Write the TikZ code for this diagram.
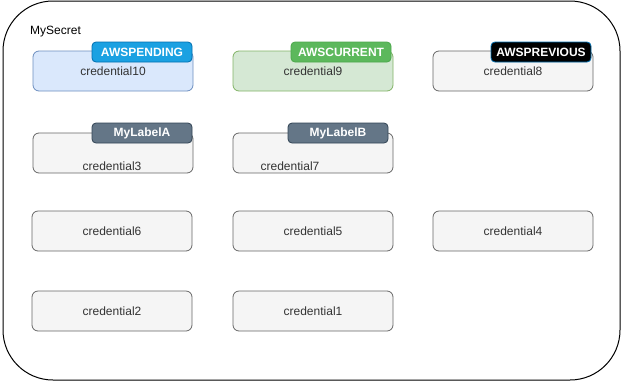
\documentclass[tikz,border=0pt]{standalone}
\usepackage{fontspec}
\setmainfont{Liberation Sans}
\usetikzlibrary{positioning}

\definecolor{grisfondo}{HTML}{F5F5F5}
\definecolor{grisborde}{HTML}{666666}
\definecolor{gristexto}{HTML}{333333}
\definecolor{azulfondo}{HTML}{DAE8FC}
\definecolor{azulborde}{HTML}{6C8EBF}
\definecolor{verdefondo}{HTML}{D5E8D4}
\definecolor{verdeborde}{HTML}{82B366}
\definecolor{azultag}{HTML}{1BA1E2}
\definecolor{azultagborde}{HTML}{006EAF}
\definecolor{verdetag}{HTML}{5CB85C}
\definecolor{verdetagborde}{HTML}{4CA84C}
\definecolor{pizarra}{HTML}{647687}
\definecolor{pizarraborde}{HTML}{314354}

\begin{document}
\begin{tikzpicture}[
        x=1pt, y=-1pt,
        cred/.style={
            rectangle,
            rounded corners=6pt,
            minimum width=160pt,
            minimum height=40pt,
            inner sep=0pt,
            align=center,
            font=\fontsize{12}{14}\selectfont,
            text=gristexto,
            line width=0.8pt,
            draw=grisborde,
            fill=grisfondo
        },
        etiqueta/.style={
            rectangle,
            rounded corners=4pt,
            minimum width=100pt,
            minimum height=20pt,
            inner sep=0pt,
            align=center,
            font=\fontsize{12}{14}\selectfont\bfseries,
            text=white,
            line width=0.8pt
        },
        texto/.style={font=\fontsize{12}{14}\selectfont, text=gristexto, inner sep=0pt}
    ]
        \useasboundingbox (0,0) rectangle (623,381);

        \node[draw=black, line width=1pt, rounded corners=50pt,
            minimum width=617pt, minimum height=379pt, inner sep=0pt] (secreto) at (311.5,190.5) {};

        \node[font=\fontsize{12}{14}\selectfont, inner sep=0pt, anchor=west] (nombre) at (30,32) {MySecret};

        \node[cred, fill=azulfondo, draw=azulborde] (cred10) at (113,71) {credential10};
        \node[cred, fill=verdefondo, draw=verdeborde] (cred9) at (313,71) {credential9};
        \node[cred] (cred8) at (513,71) {credential8};

        \node[cred] (cred3) at (113,153) {};
        \node[texto] (txt3) at (112,166) {credential3};
        \node[cred] (cred7) at (313,153) {};
        \node[texto] (txt7) at (290,166) {credential7};

        \node[cred] (cred6) at (112,231) {credential6};
        \node[cred] (cred5) at (313,231) {credential5};
        \node[cred] (cred4) at (513,231) {credential4};

        \node[cred] (cred2) at (112,311) {credential2};
        \node[cred] (cred1) at (313,311) {credential1};

        \node[etiqueta, fill=azultag, draw=azultagborde] (pending) at (142,52) {AWSPENDING};
        \node[etiqueta, fill=verdetag, draw=verdetagborde] (current) at (341,52) {AWSCURRENT};
        \node[etiqueta, fill=black, draw=azultagborde] (previous) at (541,52) {AWSPREVIOUS};

        \node[etiqueta, fill=pizarra, draw=pizarraborde] (labela) at (142,133) {MyLabelA};
        \node[etiqueta, fill=pizarra, draw=pizarraborde] (labelb) at (338,133) {MyLabelB};
    \end{tikzpicture}
\end{document}
